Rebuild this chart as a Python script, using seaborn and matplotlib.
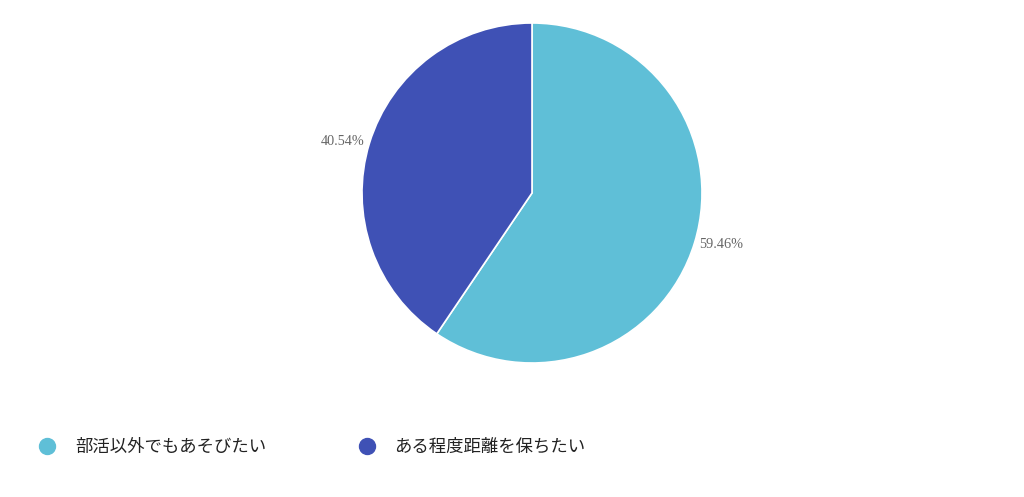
import matplotlib
matplotlib.use("Agg")
import matplotlib.pyplot as plt
from matplotlib.lines import Line2D
import seaborn as sns

# data
categories = ["部活以外でもあそびたい", "ある程度距離を保ちたい"]
shares = [59.46, 40.54]
colors = ["#5fbfd7", "#3f51b5"]

sns.set_theme(style="white")
plt.rcParams["font.family"] = ["Noto Sans CJK JP", "DejaVu Sans"]

fig = plt.figure(figsize=(10.24, 4.97), dpi=100)
W, H = 1024, 497
cx, cy, r = 532, 193, 170
ax = fig.add_axes([(cx - r) / W, (H - cy - r) / H, 2 * r / W, 2 * r / H])

labels = [f"{v:.2f}%" for v in shares]
wedges, texts = ax.pie(shares, colors=colors, labels=labels, startangle=90,
                       counterclock=False, labeldistance=1.03,
                       wedgeprops=dict(edgecolor="white", linewidth=1.2),
                       textprops=dict(family="Liberation Serif", size=10.3, color="#666666"))
ax.set_xlim(-1, 1)
ax.set_ylim(-1, 1)
ax.set_aspect("equal")
ax.axis("off")

# legend
fs = 12.5
handles = [Line2D([], [], marker="o", linestyle="none", markersize=11.5,
                  markerfacecolor=c, markeredgecolor=c) for c in colors]
fig.legend(handles, categories, loc="center left",
           bbox_to_anchor=(38.3 / W, (H - 447) / H), ncol=2, frameon=False,
           handlelength=1.0, handletextpad=1.1, columnspacing=5.3,
           borderpad=0, borderaxespad=0, labelcolor="#222222",
           prop=dict(family=["Noto Sans CJK JP", "DejaVu Sans"], size=fs, weight="normal"))

fig.savefig("out.png", dpi=100)
